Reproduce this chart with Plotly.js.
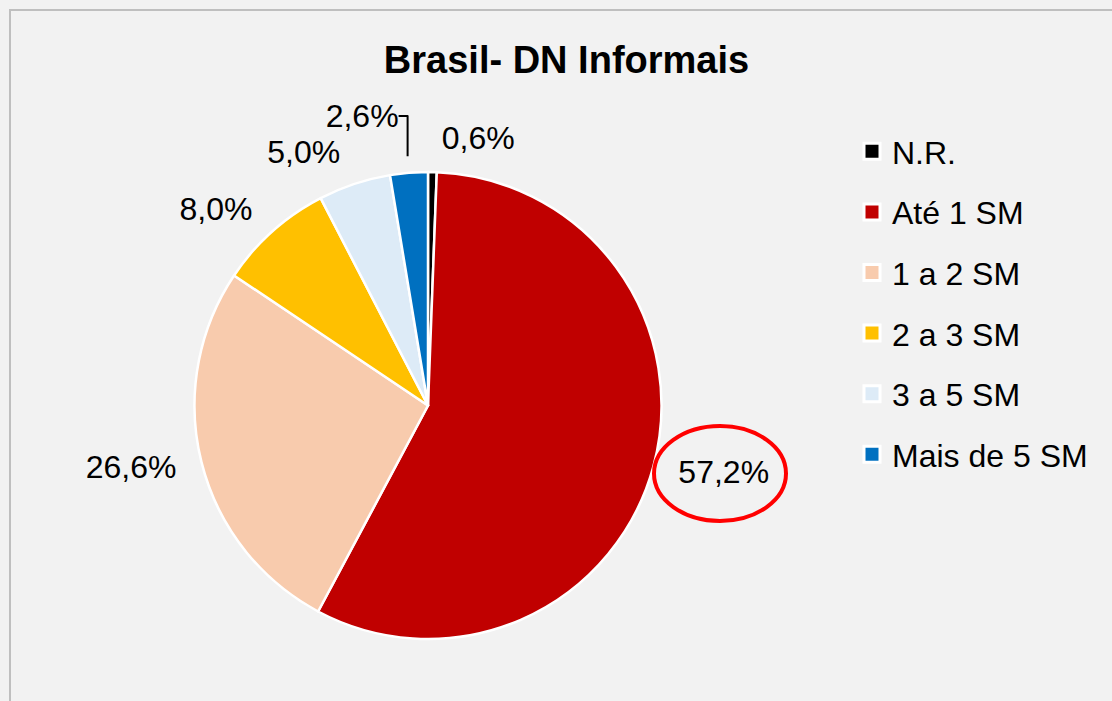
<!DOCTYPE html>
<html>
<head>
<meta charset="utf-8">
<script src="https://cdn.plot.ly/plotly-3.0.1.min.js"></script>
<style>html,body{margin:0;padding:0;background:#F2F2F2;}#chart{width:1112px;height:701px;}</style>
</head>
<body>
<div id="chart"></div>
<script>
var categories = ["N.R.", "Até 1 SM", "1 a 2 SM", "2 a 3 SM", "3 a 5 SM", "Mais de 5 SM"];
var shares = [0.6, 57.2, 26.6, 8.0, 5.0, 2.6];
var sliceColors = ["#000000", "#C00000", "#F8CBAD", "#FFC000", "#DDEBF7", "#0070C0"];
var chartTitle = "Brasil- DN Informais";

var W = 1112, H = 701;
var FONT = 'Liberation Sans, Arial, sans-serif';
var CX = 428, CY = 405.5, R = 233.5, RL = 250;

function dom(r) {
  return { x: [(CX - r) / W, (CX + r) / W], y: [1 - (CY + r) / H, 1 - (CY - r) / H] };
}

var pieTrace = {
  type: 'pie',
  labels: categories,
  values: shares,
  sort: false,
  direction: 'clockwise',
  rotation: 0,
  showlegend: false,
  marker: { colors: sliceColors, line: { color: '#FFFFFF', width: 2.5 } },
  textinfo: 'none',
  hoverinfo: 'none',
  automargin: false,
  domain: dom(R)
};

// transparent twin pie, slightly larger, that carries the outside data labels
var labelTrace = {
  type: 'pie',
  labels: categories,
  values: shares,
  sort: false,
  direction: 'clockwise',
  rotation: 0,
  showlegend: false,
  marker: { colors: categories.map(function () { return 'rgba(0,0,0,0)'; }), line: { width: 0 } },
  textposition: 'outside',
  texttemplate: '%{value:.1f}%',
  textfont: { family: FONT, size: 32, color: '#000000' },
  hoverinfo: 'none',
  automargin: false,
  domain: dom(RL)
};

// legend entries (one per category, no drawn points)
var legendTraces = categories.map(function (c, i) {
  return {
    type: 'scatter', mode: 'markers',
    x: [null], y: [null],
    name: c,
    legendgroup: 'g' + i,
    showlegend: true,
    marker: { symbol: 'square', size: 16, color: sliceColors[i], line: { color: '#FFFFFF', width: 3 } },
    hoverinfo: 'none'
  };
});

var layout = {
  width: W, height: H,
  paper_bgcolor: '#F2F2F2',
  plot_bgcolor: 'rgba(0,0,0,0)',
  separators: ',.',
  margin: { l: 0, r: 0, t: 0, b: 0 },
  xaxis: { visible: false },
  yaxis: { visible: false },
  title: {
    text: '<b>' + chartTitle + '</b>',
    font: { family: FONT, size: 38, color: '#000000' },
    x: 566.5 / W, xanchor: 'center', xref: 'paper',
    y: 1 - 60 / H, yanchor: 'middle', yref: 'paper'
  },
  showlegend: true,
  legend: {
    x: 852 / W, xanchor: 'left',
    y: 1 - 124 / H, yanchor: 'top',
    bgcolor: 'rgba(0,0,0,0)',
    font: { family: FONT, size: 32, color: '#000000' },
    traceorder: 'grouped',
    tracegroupgap: 16
  },
  shapes: [
    { type: 'rect', xref: 'paper', yref: 'paper', x0: 10 / W, x1: 1.05, y0: -0.05, y1: 1 - 10 / H,
      line: { color: '#BFBFBF', width: 2 }, fillcolor: 'rgba(0,0,0,0)', layer: 'below' },
    { type: 'circle', xref: 'paper', yref: 'paper', x0: 654 / W, x1: 786 / W, y0: 1 - 521 / H, y1: 1 - 426 / H,
      line: { color: '#FF0000', width: 4 }, fillcolor: 'rgba(0,0,0,0)' }
  ]
};

Plotly.newPlot('chart', [pieTrace, labelTrace].concat(legendTraces), layout, { displayModeBar: false, staticPlot: true });
</script>
</body>
</html>
